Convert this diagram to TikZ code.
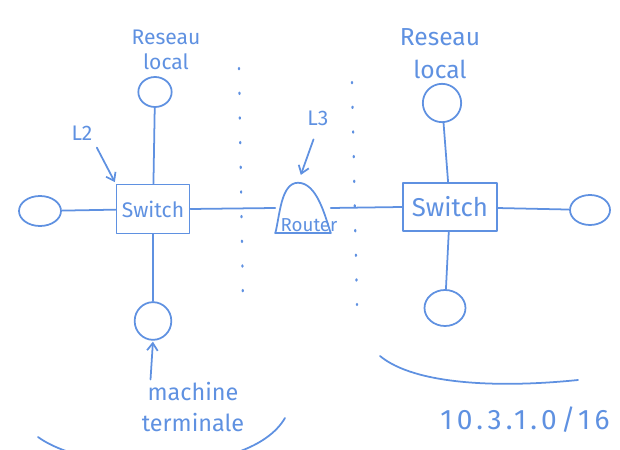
\documentclass[tikz,border=0pt]{standalone}
\usepackage{fontspec}
\setmainfont{Fira Sans}
\usepackage{xcolor}
\usetikzlibrary{arrows.meta,positioning,shapes.geometric}
\definecolor{skblue}{HTML}{5F91E1}
\newcommand{\fs}[1]{\fontsize{#1}{1.25\dimexpr#1pt\relax}\selectfont}

\begin{document}
\begin{tikzpicture}[x=0.3mm,y=-0.3mm,
  ink/.style={draw=skblue,line width=1.5pt,line cap=round,line join=round},
  swbox/.style={ink,minimum width=21.9mm,minimum height=14.7mm,inner sep=1pt,
                text=skblue,font=\fs{18}},
  host/.style={ink,ellipse,inner sep=0pt},
  lbl/.style={text=skblue,align=center,inner sep=1pt},
  arr/.style={ink,-{Straight Barb[length=2.2mm,width=3.2mm]}},
  sep/.style={draw=skblue,line width=1.9pt,line cap=round,dash pattern=on 0.4mm off 7mm}
]
\useasboundingbox (0,0) rectangle (620,450);
\clip (0,0) rectangle (620,450);
\node[swbox] (swL) at (153,209) {Switch};
\node[swbox,minimum width=28.2mm,minimum height=14.4mm,font=\fs{22}] (swR) at (450,207) {Switch};
\node[minimum width=16.5mm,minimum height=15mm,inner sep=0pt] (rt) at (303,208) {};
\node[lbl,anchor=south,font=\fs{16}] (rtxt) at ([xshift=1.8mm]rt.south) {Router};
\draw[ink] (rt.south west) to[out=75,in=180,looseness=0.8] ([xshift=-1.5mm]rt.north)
  to[out=0,in=108,looseness=0.8] (rt.south east);
\draw[ink] (rt.south west) -- (rt.south east);
\node[host,minimum width=12.6mm,minimum height=9mm] (hL) at (40,211) {};
\node[host,minimum width=10mm,minimum height=9mm] (netL) at (155,92) {};
\node[host,minimum width=11mm,minimum height=11.3mm] (termL) at (153,321) {};
\node[host,minimum width=11.5mm,minimum height=11.5mm] (netR) at (442,103) {};
\node[host,minimum width=12mm,minimum height=9mm] (hR) at (590,210) {};
\node[host,minimum width=12.3mm,minimum height=10.8mm] (termR) at (445,308) {};
\node[lbl,font=\fontsize{18}{21}\selectfont] (netLtxt) at (166,50) {Reseau\\local};
\node[lbl,font=\fontsize{21}{28}\selectfont] (netRtxt) at (440,54) {Reseau\\local};
\node[lbl,font=\fs{18}] (l2) at (82,133) {L2};
\node[lbl,font=\fs{18}] (l3) at (318,118) {L3};
\node[lbl,font=\fontsize{20}{26}\selectfont] (mt) at (193,407) {machine\\terminale};
\node[lbl,font=\fs{24}\addfontfeatures{LetterSpace=15}] (net) at (525,420) {10.3.1.0/16};
\draw[ink] (hL) -- (swL);
\draw[ink] (netL) -- (swL);
\draw[ink] (swL) -- (termL);
\draw[ink] (swL.east) -- (rt.west);
\draw[ink] (rt.east) -- (swR.west);
\draw[ink] (swR) -- (hR);
\draw[ink] (netR) -- (swR);
\draw[ink] (swR) -- (termR);
\draw[arr,shorten <=2mm,shorten >=0.5mm] (l2.south east) -- (swL.north west);
\draw[arr,shorten <=4mm,shorten >=2.5mm] (l3.south) -- ([xshift=-1.5mm]rt.north);
\draw[arr,shorten <=0.5mm,shorten >=0.3mm] ([xshift=3mm]mt.north west) -- (termL.south);
\coordinate (sepLtop) at (239,68);
\coordinate (sepLbot) at (243,302);
\coordinate (sepRtop) at (352,82);
\coordinate (sepRbot) at (357,305);
\draw[sep] (sepLtop) -- (sepLbot);
\draw[sep] (sepRtop) -- (sepRbot);
\draw[ink] (38,437) .. controls (90,475) and (250,478) .. (285,418);
\draw[ink] (380,356) .. controls (415,385) and (500,388) .. (578,380);
\end{tikzpicture}
\end{document}
